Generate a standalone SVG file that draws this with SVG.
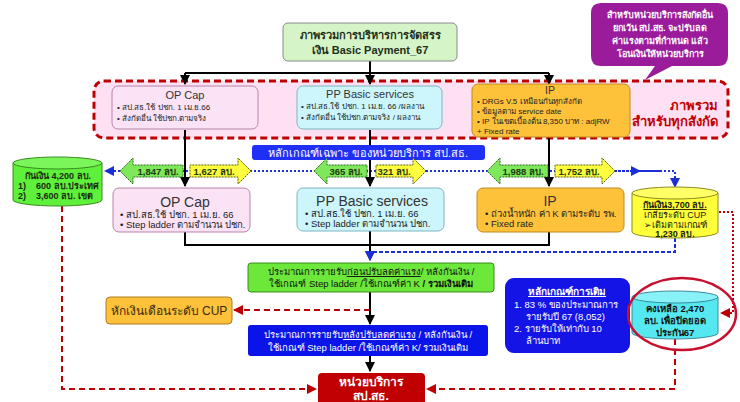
<svg xmlns="http://www.w3.org/2000/svg" width="740" height="402" viewBox="0 0 740 402">
<defs>
<style>
text{font-family:"Liberation Sans","Noto Sans",sans-serif;}
.b{font-weight:bold}
.c{text-anchor:middle}
.blk{stroke:#000;stroke-width:2;fill:none}
.bdot{stroke:#1a2fd8;stroke-width:2;fill:none;stroke-dasharray:2 2}
.bdash{stroke:#1a2fd8;stroke-width:2;fill:none;stroke-dasharray:4 2}
.rdash{stroke:#c00000;stroke-width:2;fill:none;stroke-dasharray:6 4}
.ga{fill:#7ee85a;stroke:#2f6b1f;stroke-width:1;stroke-dasharray:2 1}
.ya{fill:#ffff40;stroke:#5c5c00;stroke-width:1;stroke-dasharray:2 1}
.at{font-size:9.5px;font-weight:bold;fill:#1d3a10;text-anchor:middle}
.pk{fill:#fbe3f5;stroke:#b684a8;stroke-width:1}
.cy{fill:#ccf6fb;stroke:#7fb6c4;stroke-width:1}
.or{fill:#fdc23a;stroke:#c08a20;stroke-width:1}
.s8{font-size:8px;fill:#222}
.s10{font-size:9.5px;fill:#222}
</style>
<marker id="ak" viewBox="0 0 10 10" refX="9" refY="5" markerWidth="5" markerHeight="5" orient="auto"><path d="M0,0L10,5L0,10z" fill="#000"/></marker>
<marker id="ab" viewBox="0 0 10 10" refX="9" refY="5" markerWidth="5" markerHeight="5" orient="auto"><path d="M0,0L10,5L0,10z" fill="#1a2fd8"/></marker>
<marker id="ar" viewBox="0 0 10 10" refX="9" refY="5" markerWidth="5" markerHeight="5" orient="auto"><path d="M0,0L10,5L0,10z" fill="#c00000"/></marker>
</defs>
<rect width="740" height="402" fill="#fff"/>

<g id="overall-area">
<rect x="94" y="81" width="634" height="57" rx="10" fill="#fde0f2" stroke="#c00000" stroke-width="3" stroke-dasharray="7 4"/>
<text x="718" y="110" font-size="13" class="b" fill="#c00000" text-anchor="end">ภาพรวม</text>
<text x="718" y="126" font-size="13" class="b" fill="#c00000" text-anchor="end">สำหรับทุกสังกัด</text>
</g>

<g id="connectors">
<path class="blk" d="M370,61V73M185,73H549"/>
<path class="blk" d="M185,73V84" marker-end="url(#ak)"/>
<path class="blk" d="M370,73V84" marker-end="url(#ak)"/>
<path class="blk" d="M549,73V84" marker-end="url(#ak)"/>
<path class="bdot" d="M660,171H120"/>
<path class="bdot" d="M120,171H105" marker-end="url(#ab)"/>
<path class="bdot" d="M615,171H640" marker-end="url(#ab)"/>
<path class="bdot" d="M636,171H675V187" marker-end="url(#ab)"/>
<path class="blk" d="M185,130V186" marker-end="url(#ak)"/>
<path class="blk" d="M370,130V186" marker-end="url(#ak)"/>
<path class="blk" d="M549,138V186" marker-end="url(#ak)"/>
<path class="blk" d="M185,232V245H549V232"/>
<path class="blk" d="M370,231V260" marker-end="url(#ak)"/>
<path class="bdash" d="M675,238V252H370V260" marker-end="url(#ab)"/>
<path class="rdash" d="M370,310H234" marker-end="url(#ar)"/>
<path class="blk" d="M370,292V324" marker-end="url(#ak)"/>
<path class="blk" d="M370,356V371" marker-end="url(#ak)"/>
<path class="rdash" d="M62,206V389H316" marker-end="url(#ar)"/>
<path class="rdash" d="M675,339V389H427" marker-end="url(#ar)"/>
<path d="M719,212H733V313H721" fill="none" stroke="#c00000" stroke-width="2" stroke-dasharray="2 2" marker-end="url(#ar)"/>
</g>

<g id="title">
<rect x="283" y="23" width="174" height="38" rx="5" fill="#d5f5c8" stroke="#8a8a8a" stroke-width="1"/>
<text x="370" y="39" font-size="11" class="b c" fill="#1f2f1a">ภาพรวมการบริหารการจัดสรร</text>
<text x="370" y="54" font-size="11" class="b c" fill="#1f2f1a">เงิน Basic Payment_67</text>
</g>

<g id="callout">
<path d="M601,3H718Q728,3 728,13V56Q728,66 718,66H672L645,80L655,66H601Q591,66 591,56V13Q591,3 601,3Z" fill="#9b1c9b"/>
<text x="660" y="18" font-size="9" class="b c" fill="#fff">สำหรับหน่วยบริการสังกัดอื่น</text>
<text x="660" y="31" font-size="9" class="b c" fill="#fff">ยกเว้น สป.สธ. จะปรับลด</text>
<text x="660" y="44" font-size="9" class="b c" fill="#fff">ค่าแรงตามที่กำหนด แล้ว</text>
<text x="660" y="57" font-size="9" class="b c" fill="#fff">โอนเงินให้หน่วยบริการ</text>
</g>

<g id="opcap-top">
<rect class="pk" x="112" y="86" width="146" height="43" rx="6"/>
<text x="185" y="99" font-size="11" class="c" fill="#333">OP Cap</text>
<text x="117" y="110" class="s8">• สป.สธ.ใช้ ปชก. 1 เม.ย.66</text>
<text x="117" y="121" class="s8">• สังกัดอื่น ใช้ปชก.ตามจริง</text>
</g>

<g id="pp-top">
<rect class="cy" x="297" y="86" width="145" height="43" rx="6"/>
<text x="370" y="98" font-size="11" class="c" fill="#333">PP Basic services</text>
<text x="301" y="109" class="s8">• สป.สธ.ใช้ ปชก. 1 เม.ย. 66 /ผลงาน</text>
<text x="301" y="120" class="s8">• สังกัดอื่น ใช้ปชก.ตามจริง / ผลงาน</text>
</g>

<g id="ip-top">
<rect class="or" x="472" y="84" width="158" height="53" rx="6"/>
<text x="550" y="94" font-size="10.5" class="c" fill="#333">IP</text>
<text x="477" y="104" class="s8">• DRGs V.5 เหมือนกันทุกสังกัด</text>
<text x="477" y="114" class="s8">• ข้อมูลตาม service date</text>
<text x="477" y="124" class="s8">• IP ในเขตเบื้องต้น 8,350 บาท : adjRW</text>
<text x="477" y="134" class="s8">+ Fixed rate</text>
</g>

<g id="banner">
<rect x="252" y="145" width="233" height="15" rx="3" fill="#1f2ff5"/>
<text x="368" y="156.5" font-size="11" class="c" fill="#fff">หลักเกณฑ์เฉพาะ ของหน่วยบริการ สป.สธ.</text>
</g>

<g id="arrow-1847">
<path class="ga" d="M120,171L133,158V165H183V177H133V184Z"/>
<text x="158" y="175" class="at">1,847 ลบ.</text>
</g>
<g id="arrow-1627">
<path class="ya" d="M251,171L238,158V165H190V177H238V184Z"/>
<text x="214" y="175" class="at">1,627 ลบ.</text>
</g>
<g id="arrow-365">
<path class="ga" d="M314,171L327,158V165H367V177H327V184Z"/>
<text x="346" y="175" class="at">365 ลบ.</text>
</g>
<g id="arrow-321">
<path class="ya" d="M426,171L413,158V165H376V177H413V184Z"/>
<text x="394" y="175" class="at">321 ลบ.</text>
</g>
<g id="arrow-1988">
<path class="ga" d="M487,171L500,158V165H548V177H500V184Z"/>
<text x="523" y="175" class="at">1,988 ลบ.</text>
</g>
<g id="arrow-1752">
<path class="ya" d="M615,171L602,158V165H555V177H602V184Z"/>
<text x="579" y="175" class="at">1,752 ลบ.</text>
</g>

<g id="reserve-left">
<path d="M13,163V200A44.5,6 0 0 0 102,200V163Z" fill="#5ef03a" stroke="#3a8a20" stroke-width="1"/>
<ellipse cx="57.5" cy="163" rx="44.5" ry="6" fill="#7af55a" stroke="#3a8a20" stroke-width="1"/>
<text x="58" y="179" font-size="9" class="b c" fill="#1a2a10">กันเงิน 4,200 ลบ.</text>
<text x="18" y="189" font-size="9" class="b" fill="#1a2a10">1)<tspan x="36">600 ลบ.ประเทศ</tspan></text>
<text x="18" y="199" font-size="9" class="b" fill="#1a2a10">2)<tspan x="36">3,600 ลบ. เขต</tspan></text>
</g>

<g id="opcap-low">
<rect class="pk" x="113" y="188" width="137" height="44" rx="6"/>
<text x="185" y="207" font-size="14" class="c" fill="#333">OP Cap</text>
<text x="120" y="218" class="s10">• สป.สธ.ใช้ ปชก. 1 เม.ย. 66</text>
<text x="120" y="228" class="s10">• Step ladder ตามจำนวน ปชก.</text>
</g>

<g id="pp-low">
<rect class="cy" x="297" y="188" width="147" height="43" rx="6"/>
<text x="372" y="206" font-size="14" class="c" fill="#333">PP Basic services</text>
<text x="305" y="217" class="s10">• สป.สธ.ใช้ ปชก. 1 เม.ย. 66</text>
<text x="305" y="227" class="s10">• Step ladder ตามจำนวน ปชก.</text>
</g>

<g id="ip-low">
<rect class="or" x="477" y="188" width="147" height="44" rx="6"/>
<text x="550" y="206" font-size="14" class="c" fill="#333">IP</text>
<text x="485" y="217" class="s10">• ถ่วงน้ำหนัก ค่า K ตามระดับ รพ.</text>
<text x="485" y="227" class="s10">• Fixed rate</text>
</g>

<g id="reserve-right">
<path d="M632,193V232A43,6 0 0 0 718,232V193Z" fill="#ffff3a" stroke="#8a8a20" stroke-width="1"/>
<ellipse cx="675" cy="193" rx="43" ry="6" fill="#ffff66" stroke="#8a8a20" stroke-width="1"/>
<text x="675" y="208" font-size="9" class="b c" fill="#1a1a10" text-decoration="underline">กันเงิน3,700 ลบ.</text>
<text x="675" y="218" font-size="9" class="c" fill="#1a1a10">เกลี่ยระดับ CUP</text>
<text x="675" y="228" font-size="9" class="c" fill="#1a1a10">➢เติมตามเกณฑ์</text>
<text x="675" y="237" font-size="9" class="b c" fill="#1a1a10">1,230 ลบ.</text>
</g>

<g id="income-before">
<rect x="248" y="263" width="246" height="29" rx="3" fill="#6be83a" stroke="#3a8a20" stroke-width="1"/>
<text x="371" y="275" font-size="9.5" class="c" fill="#111">ประมาณการรายรับ<tspan text-decoration="underline">ก่อนปรับลดค่าแรง</tspan>/ หลังกันเงิน /</text>
<text x="371" y="287" font-size="9.5" class="c" fill="#111">ใช้เกณฑ์ Step ladder  /ใช้เกณฑ์ค่า K <tspan font-weight="bold">/ รวมเงินเติม</tspan></text>
</g>

<g id="cup-deduct">
<rect x="106" y="297" width="126" height="27" rx="4" fill="#fdc23a" stroke="#b07a20" stroke-width="1"/>
<text x="169" y="315" font-size="12" class="c" fill="#3a2a10">หักเงินเดือนระดับ CUP</text>
</g>

<g id="income-after">
<rect x="248" y="325" width="240" height="31" rx="3" fill="#0a14e8"/>
<text x="368" y="338" font-size="9.5" class="c" fill="#fff">ประมาณการรายรับ<tspan text-decoration="underline">หลังปรับลดค่าแรง</tspan>  / หลังกันเงิน /</text>
<text x="368" y="351" font-size="9.5" class="c" fill="#fff">ใช้เกณฑ์ Step ladder  /ใช้เกณฑ์ค่า K/ รวมเงินเติม</text>
</g>

<g id="top-up-criteria">
<rect x="505" y="278" width="125" height="75" rx="9" fill="#1414e6"/>
<text x="567" y="295" font-size="10" class="b c" fill="#fff" text-decoration="underline">หลักเกณฑ์การเติม</text>
<text x="514" y="308" font-size="9.5" fill="#fff">1. 83 % ของประมาณการ</text>
<text x="526" y="320" font-size="9.5" fill="#fff">รายรับปี 67 (8,052)</text>
<text x="514" y="332" font-size="9.5" fill="#fff">2. รายรับให้เท่ากับ 10</text>
<text x="526" y="344" font-size="9.5" fill="#fff">ล้านบาท</text>
</g>

<g id="remaining">
<path d="M632,297V333A43,6 0 0 0 718,333V297Z" fill="#55e8f0" stroke="#3a8a9a" stroke-width="1"/>
<ellipse cx="675" cy="297" rx="43" ry="6" fill="#88f2f8" stroke="#3a8a9a" stroke-width="1"/>
<text x="675" y="312" font-size="9.5" class="b c" fill="#111">คงเหลือ 2,470</text>
<text x="675" y="324" font-size="9.5" class="b c" fill="#111">ลบ. เพื่อปิดยอด</text>
<text x="675" y="336" font-size="9.5" class="b c" fill="#111">ประกัน67</text>
<ellipse cx="682" cy="314" rx="54" ry="36" fill="none" stroke="#c8102e" stroke-width="2.5"/>
</g>

<g id="unit">
<rect x="318" y="373" width="107" height="34" rx="4" fill="#c00000"/>
<text x="371" y="386" font-size="12" class="b c" fill="#fff">หน่วยบริการ</text>
<text x="371" y="400" font-size="12" class="b c" fill="#fff">สป.สธ.</text>
</g>
</svg>
